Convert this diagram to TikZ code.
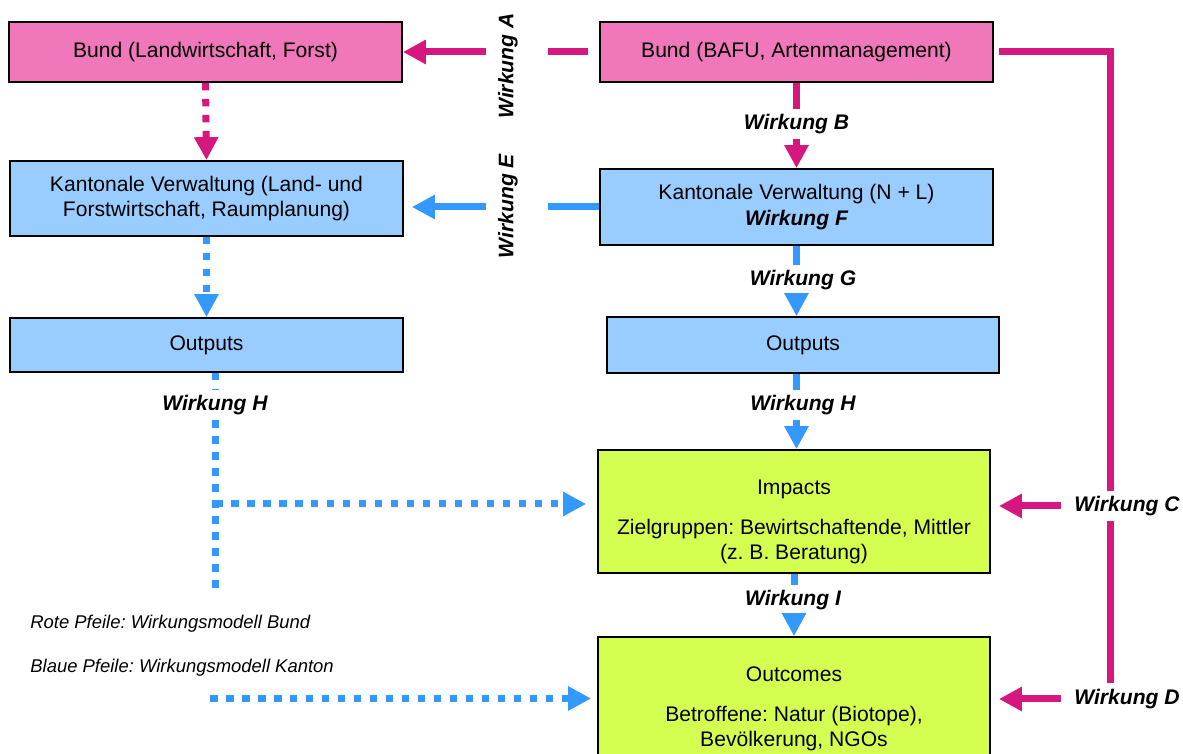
\documentclass[tikz,border=0pt]{standalone}
\usepackage{fontspec}
\setmainfont{Liberation Sans}
\usetikzlibrary{arrows.meta}
\frenchspacing

\definecolor{bundrot}{RGB}{214,23,127}
\definecolor{bundfill}{RGB}{240,120,186}
\definecolor{kantblau}{RGB}{51,153,255}
\definecolor{kantfill}{RGB}{153,204,255}
\definecolor{wirkgruen}{RGB}{212,255,80}

\begin{document}
\begin{tikzpicture}[
    kasten/.style={rectangle, draw, line width=1pt, minimum width=7.86cm, align=center, font=\fontsize{12}{14.4}\selectfont},
    wlbl/.style={fill=white, inner xsep=0.1cm, inner ysep=0.1cm, font=\fontsize{12}{14.4}\selectfont\bfseries\itshape},
    wlblrot/.style={wlbl, rotate=90, inner ysep=0.4cm},
    legende/.style={anchor=west, inner sep=0pt, font=\fontsize{10.5}{12.6}\selectfont\itshape},
    pfeil/.style={-{Triangle[width=0.46cm,length=0.46cm]}},
    rotlink/.style={bundrot, line width=0.14cm},
    blaulink/.style={kantblau, line width=0.14cm},
    punkt/.style={dash pattern=on 0.15cm off 0.17cm}
]
\useasboundingbox (0,0) rectangle (23.66,-15.08);

% Bund
\node[kasten, fill=bundfill, minimum height=1.2cm] (bundlf) at (4.11,-1.04) {Bund (Landwirtschaft, Forst)};
\node[kasten, fill=bundfill, minimum height=1.2cm] (bundbafu) at (15.93,-1.04) {Bund (BAFU, Artenmanagement)};

% Kantone
\node[kasten, fill=kantfill, minimum height=1.5cm] (kvlf) at (4.13,-3.97) {Kantonale Verwaltung (Land- und\\Forstwirtschaft, Raumplanung)};
\node[kasten, fill=kantfill, minimum height=1.52cm] (kvnl) at (15.93,-4.14) {Kantonale Verwaltung (N + L)\\{\bfseries\itshape Wirkung F}};
\node[kasten, fill=kantfill, minimum height=1.08cm] (outl) at (4.13,-6.9) {Outputs};
\node[kasten, fill=kantfill, minimum height=1.12cm, minimum width=7.84cm] (outr) at (16.06,-6.9) {Outputs};

% Impacts / Outcomes
\node[kasten, fill=wirkgruen, minimum height=2.46cm, minimum width=7.84cm] (impacts) at (15.88,-10.23) {\rule{0pt}{0.7cm}Impacts\\[0.3cm]Zielgruppen: Bewirtschaftende, Mittler\\(z. B. Beratung)};
\node[kasten, fill=wirkgruen, minimum height=2.46cm, minimum width=7.84cm] (outcomes) at (15.88,-13.97) {\rule{0pt}{0.7cm}Outcomes\\[0.3cm]Betroffene: Natur (Biotope),\\Bevölkerung, NGOs};

% Linie Bund -> C/D
\coordinate (recke) at (22.2,-1.04);
\coordinate (rende) at (22.2,-13.66);
\draw[rotlink, shorten <=0.1cm] (bundbafu.east) -- (recke) -- (rende);

% Wirkungen
\node[wlblrot] (wA) at (10.16,-1.32) {Wirkung A};
\node[wlblrot] (wE) at (10.16,-4.12) {Wirkung E};
\node[wlbl] (wB) at (15.93,-2.48) {Wirkung B};
\node[wlbl] (wG) at (16.06,-5.6) {Wirkung G};
\node[wlbl] (wHr) at (16.06,-8.1) {Wirkung H};
\node[wlbl] (wI) at (15.86,-12.0) {Wirkung I};
\node[wlbl] (wHl) at (4.3,-8.1) {Wirkung H};
\node[wlbl] (wC) at (22.54,-10.12) {Wirkung C};
\node[wlbl] (wD) at (22.54,-13.98) {Wirkung D};

% Legende
\node[legende] (legrot) at (0.6,-12.48) {Rote Pfeile: Wirkungsmodell Bund};
\node[legende] (legblau) at (0.6,-13.36) {Blaue Pfeile: Wirkungsmodell Kanton};

% Pfeile rot
\draw[rotlink, shorten <=0.22cm, shorten >=0.2cm] (bundbafu.west) -- (bundbafu.west -| wA.south);
\draw[rotlink, pfeil, shorten <=-0.16cm] (bundbafu.west -| wA.north) -- (bundlf.east);
\draw[rotlink] (bundbafu.south) -- (wB.north);
\draw[rotlink, pfeil] (wB.south) -- (kvnl.north);
\draw[rotlink, punkt, pfeil] (bundlf.south) -- (kvlf.north);
\draw[rotlink, pfeil, shorten <=0.16cm, shorten >=0.16cm] (wC.west) -- (wC.west -| impacts.east);
\draw[rotlink, pfeil, shorten <=0.16cm, shorten >=0.16cm] (wD.west) -- (wD.west -| outcomes.east);

% Pfeile blau
\draw[blaulink, shorten >=0.2cm] (kvnl.west) -- (kvnl.west -| wE.south);
\draw[blaulink, pfeil, shorten <=-0.16cm, shorten >=0.16cm] (kvnl.west -| wE.north) -- (kvlf.east |- kvnl.west);
\draw[blaulink] (kvnl.south) -- (kvnl.south |- wG.north);
\draw[blaulink, pfeil] (kvnl.south |- wG.south) -- (kvnl.south |- outr.north);
\draw[blaulink] (kvnl.south |- outr.south) -- (kvnl.south |- wHr.north);
\draw[blaulink, pfeil] (kvnl.south |- wHr.south) -- (kvnl.south |- impacts.north);
\draw[blaulink] (impacts.south) -- (impacts.south |- wI.north);
\draw[blaulink, pfeil] (impacts.south |- wI.south) -- (outcomes.north);

% Kanton links (gepunktet)
\coordinate (hast) at (4.3,-10.08);
\coordinate (hende) at (4.3,-11.76);
\coordinate (hunten) at (4.2,-13.97);
\draw[blaulink, punkt, pfeil] (kvlf.south) -- (outl.north);
\draw[blaulink, punkt] (outl.south -| wHl) -- (wHl.north);
\draw[blaulink, punkt] (wHl.south) -- (hende);
\draw[blaulink, punkt, pfeil, shorten >=0.22cm] (hast) -- (hast -| impacts.west);
\draw[blaulink, punkt, pfeil, shorten >=0.12cm] (hunten) -- (hunten -| outcomes.west);

\end{tikzpicture}
\end{document}
